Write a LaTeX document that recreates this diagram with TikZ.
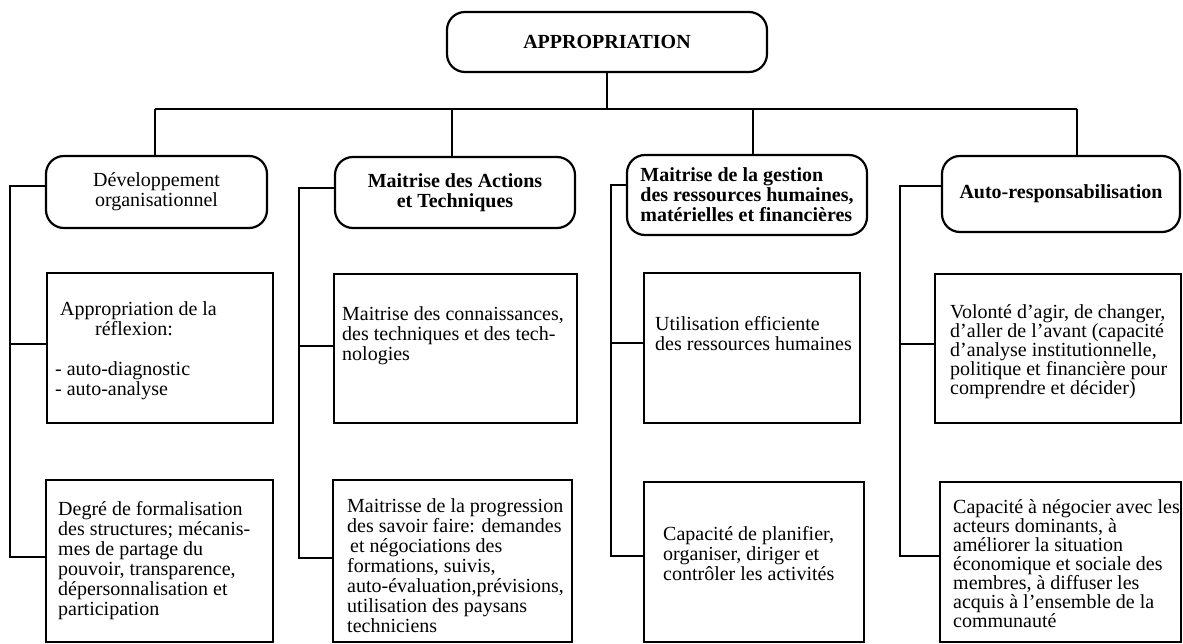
\documentclass[tikz,border=0pt]{standalone}
\usepackage{fontspec}
\setmainfont{Liberation Serif}
\newcommand{\fl}{\rule{0pt}{15pt}}
\begin{document}
\begin{tikzpicture}[x=1pt,y=-1pt,
  hbox/.style={draw, line width=2.2pt, rounded corners=18pt, inner sep=0pt,
    font=\bfseries\fontsize{20}{20}\selectfont, align=center},
  cbox/.style={draw, line width=2.2pt, inner sep=0pt, anchor=north west},
  txt/.style={inner sep=0pt, anchor=north west, align=left,
    font=\fontsize{20}{20}\selectfont},
  txtb/.style={txt, font=\fontsize{20}{19}\selectfont},
  conn/.style={line width=2.2pt, line join=miter}]
\useasboundingbox (0,0) rectangle (1183,644);

% top
\node[hbox, minimum width=320pt, minimum height=60pt] (top) at (607,42) {APPROPRIATION};

% headers
\node[hbox, font=\mdseries\fontsize{20}{20}\selectfont, minimum width=221pt, minimum height=72pt] (h1) at (156.5,192) {Développement\\organisationnel};
\node[hbox, minimum width=240pt, minimum height=71pt] (h2) at (455,192.5) {Maitrise des Actions\\et Techniques};
\node[hbox, align=left, minimum width=240pt, minimum height=80pt] (h3) at (747,195) {Maitrise de la gestion\\des ressources humaines,\\matérielles et financières};
\node[hbox, minimum width=238pt, minimum height=76pt] (h4) at (1061,194) {Auto-responsabilisation};

% lower boxes
\node[cbox, minimum width=226pt, minimum height=150pt] (b1a) at (46,272) {};
\node[cbox, minimum width=227pt, minimum height=162pt] (b1b) at (45,479) {};
\node[cbox, minimum width=243pt, minimum height=149pt] (b2a) at (333,273) {};
\node[cbox, minimum width=239pt, minimum height=162pt] (b2b) at (332,479) {};
\node[cbox, minimum width=216pt, minimum height=150pt] (b3a) at (643,272) {};
\node[cbox, minimum width=220pt, minimum height=160pt] (b3b) at (643,481) {};
\node[cbox, minimum width=246pt, minimum height=149pt] (b4a) at (934,273) {};
\node[cbox, minimum width=241pt, minimum height=160pt] (b4b) at (939,481) {};

% texts
\node[txt] (t1a) at (55,300) {\hspace*{5pt}\fl Appropriation de la\\\hspace*{40pt}réflexion:\\[20pt]- auto-diagnostic\\- auto-analyse};
\node[txt] (t1b) at (58,500) {\fl Degré de formalisation\\des structures; mécanis-\\mes de partage du\\pouvoir, transparence,\\dépersonnalisation et\\participation};
\node[txt] (t2a) at (342,305) {\fl Maitrise des connaissances,\\des techniques et des tech-\\nologies};
\node[txt] (t2b) at (347,497) {\fl Maitrisse de la progression\\des savoir faire: demandes\\\hspace*{3pt}et négociations des\\formations, suivis,\\auto-évaluation,prévisions,\\utilisation des paysans\\techniciens};
\node[txt] (t3a) at (655,315) {\fl Utilisation efficiente\\des ressources humaines};
\node[txt] (t3b) at (663,525) {\fl Capacité de planifier,\\organiser, diriger et\\contrôler les activités};
\node[txtb] (t4a) at (950,303) {\fl Volonté d'agir, de changer,\\d'aller de l'avant (capacité\\d'analyse institutionnelle,\\politique et financière pour\\comprendre et décider)};
\node[txtb] (t4b) at (953,498) {\fl Capacité à négocier avec les\\acteurs dominants, à\\améliorer la situation\\économique et sociale des\\membres, à diffuser les\\acquis à l'ensemble de la\\communauté};

% tree
\coordinate (s1) at (155,109);
\coordinate (s2) at (452,109);
\coordinate (s3) at (753,109);
\coordinate (s4) at (1077,109);
\draw[conn] (s1) -- (s4);
\draw[conn] (top.south) -- (top.south |- s1);
\draw[conn] (s1) -- (s1 |- h1.north);
\draw[conn] (s2) -- (s2 |- h2.north);
\draw[conn] (s3) -- (s3 |- h3.north);
\draw[conn] (s4) -- (s4 |- h4.north);

% columns
\coordinate (k1) at (10,0);
\coordinate (k2) at (299,0);
\coordinate (k3) at (611,0);
\coordinate (k4) at (900,0);
\coordinate (jh1) at ([yshift=6pt]h1.west);
\coordinate (jh2) at ([yshift=4.5pt]h2.west);
\coordinate (jh3) at ([yshift=10pt]h3.west);
\coordinate (jh4) at ([yshift=8pt]h4.west);
\coordinate (ja1) at ([yshift=4pt]b1a.west);
\coordinate (jb1) at ([yshift=4pt]b1b.west);
\coordinate (ja2) at ([yshift=3pt]b2a.west);
\coordinate (jb2) at ([yshift=3pt]b2b.west);
\coordinate (ja3) at ([yshift=5pt]b3a.west);
\coordinate (jb3) at ([yshift=6pt]b3b.west);
\coordinate (ja4) at ([yshift=5pt]b4a.west);
\coordinate (jb4) at ([yshift=6pt]b4b.west);
\draw[conn] (jh1) -| (k1 |- jb1) -- (jb1);
\draw[conn] (k1 |- ja1) -- (ja1);
\draw[conn] (jh2) -| (k2 |- jb2) -- (jb2);
\draw[conn] (k2 |- ja2) -- (ja2);
\draw[conn] (jh3) -| (k3 |- jb3) -- (jb3);
\draw[conn] (k3 |- ja3) -- (ja3);
\draw[conn] (jh4) -| (k4 |- jb4) -- (jb4);
\draw[conn] (k4 |- ja4) -- (ja4);
\end{tikzpicture}
\end{document}
